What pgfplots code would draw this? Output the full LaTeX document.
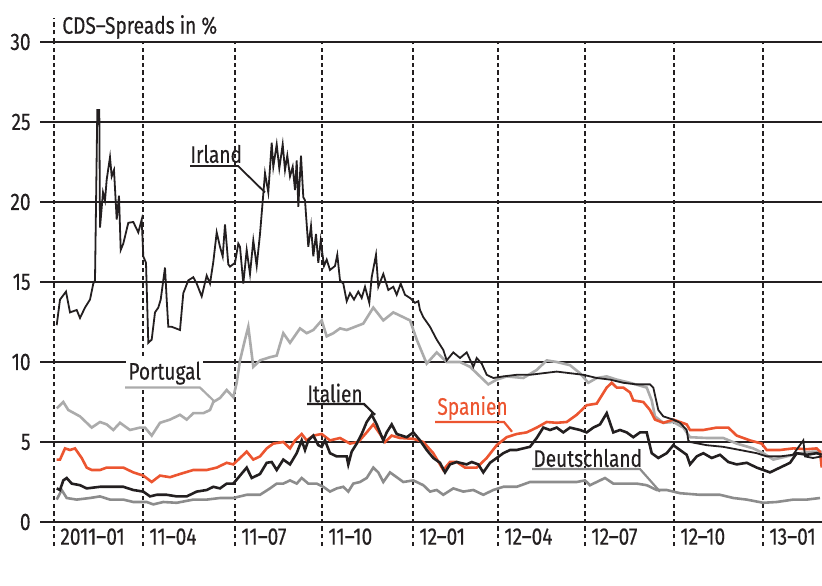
\documentclass[border=0pt]{standalone}
\usepackage{fontspec}
\setmainfont{Fira Sans}[FakeStretch=0.8, FakeBold=0.3]
\usepackage{pgfplots}
\pgfplotsset{compat=1.18}
\definecolor{ink}{HTML}{231F20}
\definecolor{spanien}{HTML}{EC5530}
\definecolor{portugal}{HTML}{ABABAB}
\definecolor{deutsch}{HTML}{8C8C8C}
\definecolor{gridgray}{HTML}{7A7A7A}

% x = days since 2011-01-01 (approx.), y = CDS spread in %
\begin{document}
\begin{tikzpicture}[font=\fontsize{12}{14}\selectfont, text=ink]
\path[use as bounding box] (-20bp,-20bp) rectangle (391bp,273bp);
\begin{axis}[
    at={(0,0)}, anchor=south west,
    width=391bp, height=252bp, scale only axis,
    xmin=-14, xmax=768, ymin=-1.5, ymax=30,
    clip=false,
    axis line style={draw=none},
    tick style={draw=none},
    xtick={0,89,181,268,359,444,531,620,709},
    xticklabels={2011--01,11--04,11--07,11--10,12--01,12--04,12--07,12--10,13--01},
    ytick={10,15,20,25},
    extra y ticks={0,5,30},
    extra y tick style={major grid style={color=gridgray, line width=1.1bp}},
    xmajorgrids, ymajorgrids,
    x grid style={ink, line width=0.6bp, dash pattern=on 2.2bp off 1.6bp},
    y grid style={ink, line width=0.7bp},
    /pgf/number format/assume math mode=true,
    xticklabel style={anchor=north west, inner sep=0pt, xshift=3bp, yshift=9bp},
    yticklabel style={anchor=east, inner sep=0pt, xshift=-4.5bp},
]
% Deutschland
\addplot[deutsch, line width=1.3bp] coordinates {
(2.7,1.4)(7.7,2.0)(12.7,1.5)(22.7,1.4)(36,1.5)(46,1.6)(56,1.4)(69.3,1.4)(79.3,1.25)(92.7,1.25)(99.3,1.1)(109.3,1.25)(122.7,1.2)(139.3,1.4)(152.7,1.4)(166,1.5)(179.3,1.5)(192.7,1.7)(206,1.7)(216,2.1)(222.7,2.4)(229.3,2.4)(236,2.6)(242.7,2.4)(247.7,2.75)(254.3,2.4)(262.7,2.4)(269.3,2.2)(276,1.9)(282.7,2.1)(289.3,2.2)(294.3,1.9)(299.3,2.4)(306,2.5)(312.7,2.75)(319.3,3.4)(324.3,3.1)(329.3,2.5)(336,3.1)(342.7,2.8)(349.3,2.5)(359.3,2.6)(369.3,2.3)(376,1.9)(382.7,2.0)(389.3,1.7)(399.3,2.1)(409.3,1.9)(419.3,2.0)(429.3,1.7)(439.3,2.0)(449.3,2.2)(462.7,2.2)(476,2.5)(489.3,2.5)(502.7,2.5)(522.7,2.5)(531,2.6)(536,2.3)(542.7,2.5)(551,2.75)(559.3,2.4)(572.7,2.4)(582.7,2.4)(592.7,2.3)(602.7,2.0)(612.7,2.0)(626,1.8)(646,1.7)(666,1.7)(679.3,1.5)(692.7,1.4)(709.3,1.2)(722.7,1.25)(739.3,1.4)(752.7,1.4)(766,1.5)
};
% Portugal
\addplot[portugal, line width=1.3bp] coordinates {
(2.7,7.1)(9.3,7.5)(14.3,7.0)(26,6.6)(37.7,5.9)(46,6.25)(52.7,6.1)(59.3,5.75)(66,6.2)(76,5.75)(86,5.9)(91,5.9)(97.7,5.4)(106,6.2)(116,6.4)(126,6.7)(132.7,6.4)(139.3,6.8)(149.3,6.8)(156,7.0)(159.3,7.5)(166,7.75)(172.7,8.25)(179.3,7.8)(182.7,8.7)(186,10.1)(191,11.4)(194.3,12.2)(199.3,9.7)(206,10.1)(216,10.3)(222.7,10.4)(229.3,11.8)(236,11.2)(246,12.1)(252.7,11.8)(259.3,12.0)(267.7,12.6)(272.7,11.6)(279.3,11.8)(286,12.1)(292.7,12.0)(309.3,12.4)(319.3,13.4)(329.3,12.6)(339.3,13.1)(356,12.6)(362.7,11.4)(372.7,9.9)(382.7,10.6)(392.7,10.0)(406,10.0)(416,9.7)(426,9.1)(434.3,8.6)(442.7,8.9)(452.7,9.1)(469.3,9.0)(482.7,9.5)(492.7,10.1)(502.7,10.0)(516,9.8)(526,9.3)(534.3,8.7)(542.7,9.0)(552.7,9.1)(562.7,8.9)(576,8.7)(592.7,8.4)(597.7,7.6)(601,6.6)(609.3,6.2)(619.3,6.25)(629.3,5.9)(636,5.3)(652.7,5.25)(669.3,5.25)(682.7,4.9)(699.3,4.6)(709.3,4.3)(719.3,3.9)(732.7,4.1)(746,4.3)(759.3,4.4)(767.7,4.4)
};
% Spanien
\addplot[spanien, line width=1.3bp] coordinates {
(2.7,3.9)(6,3.9)(11,4.6)(16,4.5)(21,4.6)(27.7,4.0)(32.7,3.4)(37.7,3.25)(46,3.25)(52.7,3.4)(61,3.4)(69.3,3.4)(79.3,3.1)(89.3,2.9)(97.7,2.5)(106,2.9)(116,2.8)(126,3.0)(139.3,3.25)(152.7,3.25)(162.7,3.4)(172.7,3.7)(179.3,3.6)(186,4.0)(192.7,4.4)(199.3,3.9)(206,4.1)(212.7,4.6)(219.3,4.9)(229.3,5.0)(236,4.6)(241,5.1)(247.7,5.5)(252.7,5.1)(259.3,5.4)(267.7,5.5)(276,5.1)(286,5.25)(296,4.9)(304.3,5.0)(312.7,5.6)(319.3,6.1)(326,5.5)(331,5.0)(337.7,5.4)(346,5.25)(359.3,5.2)(369.3,5.0)(379.3,4.3)(389.3,3.25)(396,3.75)(402.7,3.75)(411,3.4)(422.7,3.4)(432.7,4.0)(442.7,4.8)(452.7,5.3)(462.7,5.5)(472.7,5.6)(482.7,5.9)(492.7,6.25)(502.7,6.2)(512.7,6.25)(522.7,6.7)(532.7,7.3)(542.7,7.4)(552.7,8.4)(557.7,8.7)(562.7,8.4)(569.3,8.4)(576,8.1)(579.3,7.6)(589.3,7.5)(596,7.0)(601,6.4)(609.3,6.2)(619.3,6.4)(632.7,6.1)(636,5.75)(649.3,5.75)(662.7,5.9)(674.3,5.9)(682.7,5.4)(696,5.1)(707.7,4.9)(712.7,4.5)(726,4.5)(739.3,4.6)(752.7,4.55)(762.7,4.6)(766,4.4)(767.7,3.4)
};
% Italien
\addplot[ink, line width=1.3bp] coordinates {
(2.7,2.1)(6,2.0)(9.3,2.6)(12.7,2.75)(17.7,2.4)(26,2.3)(32.7,2.1)(46,2.2)(59.3,2.2)(69.3,2.2)(79.3,2.0)(89.3,1.9)(96,1.6)(102.7,1.7)(112.7,1.7)(122.7,1.6)(132.7,1.6)(142.7,1.9)(152.7,2.0)(159.3,2.2)(166,2.1)(172.7,2.4)(179.3,2.4)(186,2.9)(192.7,3.4)(197.7,2.75)(206,3.0)(212.7,3.7)(217.7,3.75)(222.7,3.25)(229.3,3.9)(236,3.6)(242.7,4.3)(247.7,5.1)(251,4.5)(254.3,5.1)(259.3,5.4)(264.3,4.8)(267.7,4.7)(271,5.1)(276,4.3)(282.7,4.1)(292.7,4.1)(294.3,3.6)(297.7,4.4)(302.7,4.9)(307.7,5.5)(312.7,6.25)(317.7,6.7)(322.7,6.1)(329.3,5.1)(332.7,5.6)(337.7,6.1)(342.7,5.5)(352.7,5.3)(359.3,5.6)(366,5.1)(372.7,4.5)(379.3,4.0)(386,3.7)(391,3.1)(396,3.6)(402.7,3.75)(412.7,3.6)(417.7,3.75)(424.3,3.6)(429.3,3.1)(436,3.7)(442.7,4.0)(449.3,4.3)(456,4.5)(462.7,4.5)(469.3,4.6)(476,4.7)(482.7,5.25)(489.3,5.9)(496,5.75)(502.7,5.9)(509.3,5.6)(516,5.9)(526,5.75)(532.7,5.6)(539.3,5.9)(546,6.1)(552.7,6.8)(559.3,5.6)(566,5.75)(572.7,5.6)(579.3,5.3)(586,5.6)(592.7,5.6)(597.7,4.3)(604.3,4.0)(612.7,4.3)(619.3,4.8)(626,4.5)(632.7,4.2)(636,3.6)(642.7,4.1)(649.3,4.3)(657.7,4.0)(666,4.2)(674.3,3.75)(682.7,3.6)(692.7,3.7)(702.7,3.4)(716,3.1)(726,3.4)(736,3.7)(742.7,4.3)(752.7,4.2)(762.7,4.3)(767.7,4.2)
};
% Irland
\addplot[ink, line width=0.9bp] coordinates {
(2.7,12.3)(6,13.9)(12,14.4)(16,13.1)(22.7,13.25)(26,12.75)(31,13.4)(36,13.9)(39.3,14.9)(41,15.1)(43.3,25.75)(45.3,25.75)(46,18.4)(49,20.6)(51,20.1)(52.7,21.4)(56,22.8)(57.7,21.6)(60,22.0)(62.7,18.9)(65,20.4)(66.7,17.0)(69.3,17.4)(74.3,18.7)(79.3,18.75)(84.3,18.1)(87.7,18.9)(89.3,16.6)(92,16.2)(94.3,11.2)(97.7,11.4)(101,13.1)(104.3,13.4)(106.7,13.9)(111,15.9)(112.7,13.9)(114.3,12.2)(117.7,12.2)(126,12.0)(129.3,14.3)(134.3,15.1)(139.3,15.3)(142.7,14.9)(147.7,14.1)(152.7,15.4)(156,14.9)(159.3,16.25)(162.7,18.1)(166,17.2)(168.7,16.6)(171,18.6)(174.3,16.1)(176,15.96)(181,16.2)(184.3,17.4)(186,17.2)(189.3,14.9)(192.7,17.0)(196,15.5)(199.3,17.6)(202.7,16.0)(206,18.0)(209.3,20.5)(211,21.8)(214.3,20.6)(217.7,23.7)(219.3,22.2)(222.7,23.6)(225.3,22.1)(228.7,23.6)(231,22.0)(233.3,22.9)(236,21.6)(238.7,22.2)(241,20.75)(242.7,22.6)(244.3,19.7)(247,22.9)(249.3,20.3)(251,20.1)(254.3,17.2)(257,18.5)(259.3,16.6)(262,18.0)(264.3,16.2)(266.7,17.6)(270,16.0)(272.7,16.4)(276,15.75)(281,16.0)(283.3,16.7)(286,15.1)(289.3,14.9)(292.7,13.8)(296,14.3)(300,13.9)(304.3,14.4)(307.7,14.0)(311,14.7)(315.3,13.7)(317.7,15.3)(322,16.7)(324.3,14.7)(329.3,15.5)(334.3,14.5)(339.3,14.7)(342.7,14.2)(346.7,14.9)(351,14.2)(356,14.0)(361,13.7)(364.3,13.8)(366,13.25)(369.3,12.8)(376,12.2)(382.7,11.4)(389.3,10.75)(392.7,10.1)(399.3,10.6)(406,10.25)(412.7,10.6)(419.3,9.7)(422.7,10.25)(427.7,9.9)(432.7,9.2)(439.3,9.0)(449.3,9.1)(462.7,9.2)(476,9.2)(489.3,9.3)(502.7,9.4)(516,9.3)(529.3,9.2)(542.7,9.0)(556,8.9)(569.3,8.7)(582.7,8.6)(596,8.6)(599.3,8.4)(604.3,7.0)(609.3,6.6)(619.3,6.4)(626,6.2)(632.7,5.75)(634.3,5.1)(636,5.0)(652.7,4.8)(669,4.7)(686,4.5)(702.7,4.3)(712.7,4.1)(726,4.1)(739,4.2)(749.3,5.1)(751,4.1)(759,4.0)(767.7,4.1)
};
% title and first dashed line above the frame
\draw[ink, line width=0.6bp, dash pattern=on 2.2bp off 1.6bp] (axis cs:0,30) -- (axis cs:0,31.5);
\node[anchor=west, inner sep=0pt] at (axis cs:8,30.94) {CDS--Spreads in \%};
% labels with leader lines
\node[anchor=west, inner sep=0pt] at (axis cs:136,23.0) {Irland};
\draw[ink, line width=0.9bp] (axis cs:136,22.25) -- (axis cs:184,22.25) -- (axis cs:211,20.6);
\node[anchor=west, fill=white, inner xsep=1bp, inner ysep=2bp] at (axis cs:72,9.3) {Portugal};
\draw[portugal, line width=1.1bp] (axis cs:71,8.4) -- (axis cs:146,8.4) -- (axis cs:161,7.5);
\node[anchor=west, inner sep=0pt] at (axis cs:253,8.06) {Italien};
\draw[ink, line width=1.1bp] (axis cs:253,7.375) -- (axis cs:310,7.375) -- (axis cs:321,6.7);
\node[anchor=west, inner sep=0pt, text=spanien] at (axis cs:383,7.125) {Spanien};
\draw[spanien, line width=1.1bp] (axis cs:381,6.25) -- (axis cs:450,6.25) -- (axis cs:458,5.64);
\node[anchor=west, inner sep=0pt] at (axis cs:479,4.0) {Deutschland};
\draw[deutsch, line width=1.1bp] (axis cs:478,3.31) -- (axis cs:586,3.31) -- (axis cs:606,1.9);
\end{axis}
\end{tikzpicture}
\end{document}
